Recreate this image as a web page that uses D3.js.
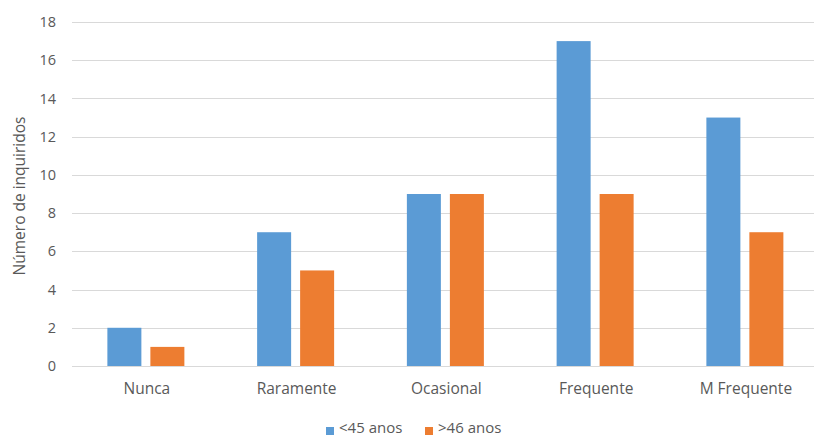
<!DOCTYPE html>
<html>
<head>
<meta charset="utf-8">
<script src="https://cdn.jsdelivr.net/npm/d3@7"></script>
<style>
  html, body { margin: 0; padding: 0; background: #fff; }
  svg { display: block; font-family: "Open Sans", "Noto Sans", sans-serif; }
</style>
</head>
<body>
<svg id="chart" width="814" height="437"></svg>
<script>
const categories = ["Nunca", "Raramente", "Ocasional", "Frequente", "M Frequente"];
const seriesNames = ["<45 anos", ">46 anos"];
const under45 = [2, 7, 9, 17, 13];
const over46 = [1, 5, 9, 9, 7];
const yTicks = [0, 2, 4, 6, 8, 10, 12, 14, 16, 18];
const colors = ["#5B9BD5", "#ED7D31"];

const svg = d3.select("#chart");
const left = 71, bandW = 149.75;
const x = d3.scaleBand().domain(categories)
  .range([left, left + bandW * categories.length]).paddingInner(0).paddingOuter(0);
const y = d3.scaleLinear().domain([0, 18]).range([366, 22]);
const textColor = "#595959";

// gridlines
svg.append("g").selectAll("line").data(yTicks).join("line")
  .attr("x1", left + 1).attr("x2", 814)
  .attr("y1", d => Math.round(y(d)) + 0.5).attr("y2", d => Math.round(y(d)) + 0.5)
  .attr("stroke", "#D9D9D9").attr("stroke-width", 1);

// y tick labels
svg.append("g").selectAll("text").data(yTicks).join("text")
  .attr("x", 56).attr("y", d => y(d)).attr("dy", "0.35em")
  .attr("text-anchor", "end").attr("font-size", 14.5).attr("fill", textColor)
  .text(d => d);

// y axis title
svg.append("text")
  .attr("transform", `translate(25,${(y(9) + 2)}) rotate(-90)`)
  .attr("text-anchor", "middle").attr("font-size", 15.5).attr("fill", textColor)
  .text("Número de inquiridos");

// bars
const barW = 34, gap = 9;
const series = [under45, over46];
series.forEach((vals, si) => {
  svg.append("g").selectAll("rect").data(categories).join("rect")
    .attr("x", c => x(c) + x.bandwidth() / 2 - barW - gap / 2 + si * (barW + gap))
    .attr("width", barW)
    .attr("y", (c, i) => y(vals[i]))
    .attr("height", (c, i) => y(0) - y(vals[i]))
    .attr("fill", colors[si]);
});

// category labels
svg.append("g").selectAll("text").data(categories).join("text")
  .attr("x", c => x(c) + x.bandwidth() / 2 + 1).attr("y", 394)
  .attr("text-anchor", "middle").attr("font-size", 15.5).attr("fill", textColor)
  .text(c => c);

// legend
const legendX = [326, 425];
seriesNames.forEach((name, i) => {
  const g = svg.append("g").attr("transform", `translate(${legendX[i]},0)`);
  g.append("rect").attr("x", 0).attr("y", 427).attr("width", 8).attr("height", 8).attr("fill", colors[i]);
  g.append("text").attr("x", 13).attr("y", 433)
    .attr("font-size", 15).attr("fill", textColor).text(name);
});
</script>
</body>
</html>
